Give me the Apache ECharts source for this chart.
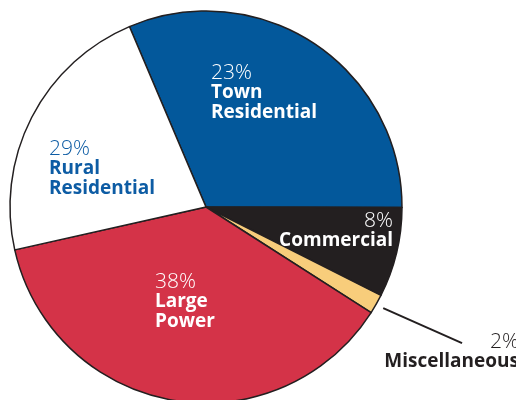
<!DOCTYPE html>
<html>
<head>
<meta charset="utf-8">
<script src="https://cdn.jsdelivr.net/npm/echarts@6/dist/echarts.min.js"></script>
<style>
html,body{margin:0;padding:0;background:#fff;}
#chart{width:516px;height:400px;}
</style>
</head>
<body>
<div id="chart"></div>
<script>
// Slice order (clockwise from the Town/Rural boundary)
var categories = ['Town\nResidential', 'Commercial', 'Miscellaneous', 'Large\nPower', 'Rural\nResidential'];
// Slice sizes as drawn in the picture (angular share, %)
var sliceShares = [31.4, 7.4, 1.6, 37.4, 22.1];
// Percentages printed on the labels
var labelPercents = [23, 8, 2, 38, 29];

var sliceColors = ['#03589b', '#231f20', '#f8cd7b', '#d43348', '#ffffff'];
var labelColors = ['#ffffff', '#ffffff', '#231f20', '#ffffff', '#0d5ca4'];
var labelBoxes = [
  {x: 211, y: 63, align: 'left'},
  {x: 393, y: 211, align: 'right'},
  {x: 519, y: 332, align: 'right'},
  {x: 155, y: 272, align: 'left'},
  {x: 49, y: 139, align: 'left'}
];

var CENTER = [206, 207], RADIUS = 196, START = 113;

var data = categories.map(function (c, i) {
  return {
    name: c,
    value: sliceShares[i],
    itemStyle: {color: sliceColors[i]},
    label: {color: labelColors[i]}
  };
});

// leader line for the small slice, derived from its mid angle
var total = sliceShares.reduce(function (a, b) { return a + b; }, 0);
var before = sliceShares.slice(0, 2).reduce(function (a, b) { return a + b; }, 0);
var midDeg = START - (before + sliceShares[2] / 2) / total * 360;
function polar(r, deg) {
  var a = deg * Math.PI / 180;
  return [CENTER[0] + r * Math.cos(a), CENTER[1] - r * Math.sin(a)];
}
var p1 = polar(RADIUS + 8, midDeg);
var p2 = polar(RADIUS + 94, midDeg + 1.7);

var chart = echarts.init(document.getElementById('chart'), null, {renderer: 'canvas'});
chart.setOption({
  animation: false,
  graphic: [{
    type: 'line',
    shape: {x1: p1[0], y1: p1[1], x2: p2[0], y2: p2[1]},
    style: {stroke: '#231f20', lineWidth: 2},
    silent: true
  }],
  series: [{
    type: 'pie',
    center: CENTER,
    radius: RADIUS,
    startAngle: START,
    clockwise: true,
    avoidLabelOverlap: false,
    itemStyle: {borderColor: '#231f20', borderWidth: 1.5},
    label: {
      show: true,
      position: 'inside',
      fontFamily: 'Open Sans',
      formatter: function (p) {
        var lines = categories[p.dataIndex].split('\n').map(function (s) { return '{n|' + s + '}'; });
        return '{p|' + labelPercents[p.dataIndex] + '%}\n' + lines.join('\n');
      },
      rich: {
        p: {fontSize: 21, fontWeight: 300, lineHeight: 20, fontFamily: 'Open Sans'},
        n: {fontSize: 19, fontWeight: 'bold', lineHeight: 20, fontFamily: 'Open Sans'}
      }
    },
    labelLine: {show: false},
    labelLayout: function (params) {
      var b = labelBoxes[params.dataIndex];
      return {x: b.x, y: b.y, align: b.align, verticalAlign: 'top'};
    },
    emphasis: {disabled: true},
    data: data
  }]
});
</script>
</body>
</html>
